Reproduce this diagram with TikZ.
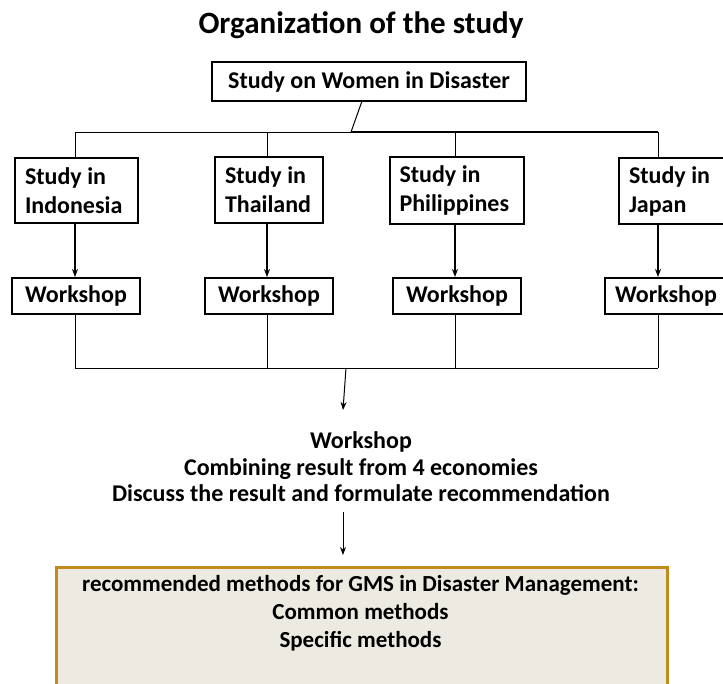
\documentclass[tikz,border=0pt]{standalone}
\usepackage{fontspec}
\setmainfont{Carlito}
\usepackage{xcolor}
\usetikzlibrary{arrows.meta, positioning}

\definecolor{recgold}{HTML}{C28B1C}
\definecolor{recfill}{HTML}{EDEBE1}

\begin{document}
\begin{tikzpicture}[
    x=1pt,  % 1 unit = 1 pixel of the layout
    y=-1pt, % y grows downwards
    >={Stealth[length=8pt, width=6pt]},
    font=\bfseries\fontsize{24}{29}\selectfont,
    box/.style={draw, line width=2pt, inner sep=0pt},
    studybox/.style={box, align=flush left, inner xsep=10pt},
    wsbox/.style={box, minimum height=36pt},
    link/.style={line width=1pt},
    recbox/.style={draw=recgold, fill=recfill, line width=2.5pt}
]
    \useasboundingbox (0,0) rectangle (723,683);

    % --- title ---
    \node[font=\bfseries\fontsize{31}{34}\selectfont] (title) at (361,25) {Organization of the study};

    % --- top box ---
    \node[box, minimum width=314pt, minimum height=39pt] (top) at (369,81.5) {Study on Women in Disaster};

    % --- study boxes ---
    \node[studybox, minimum width=123pt, minimum height=65pt, text width=103pt] (indo) at (76.5,190.5) {Study in\\Indonesia};
    \node[studybox, minimum width=108pt, minimum height=66pt, text width=88pt] (thai) at (269,190) {Study in\\Thailand};
    \node[studybox, minimum width=133pt, minimum height=67pt, text width=114pt] (phil) at (456.5,190.5) {Study in\\Philippines};
    \node[studybox, minimum width=108pt, minimum height=66pt, text width=88pt] (japan) at (673,191) {Study in\\Japan};

    % --- workshop boxes ---
    \node[wsbox, minimum width=128pt] (ws-indo) at (76,296) {Workshop};
    \node[wsbox, minimum width=128pt] (ws-thai) at (269,296) {Workshop};
    \node[wsbox, minimum width=128pt] (ws-phil) at (457,296) {Workshop};
    \node[wsbox, minimum width=122pt] (ws-japan) at (666,296) {Workshop};

    % --- bus points ---
    \coordinate (tMid) at (351,132);
    \coordinate (t1) at (75,132);
    \coordinate (t2) at (267,132);
    \coordinate (t3) at (455,132);
    \coordinate (t4) at (658,132);
    \coordinate (bMid) at (346,368);
    \coordinate (b1) at (75,368);
    \coordinate (b2) at (267,368);
    \coordinate (b3) at (455,368);
    \coordinate (b4) at (658,368);
    \coordinate (arrowEnd) at (343,410);

    % --- tree from the top box ---
    \draw[link] (top) -- (tMid);
    \draw[link] (t1) -- (t4);
    \draw[line width=2pt] (tMid) -- (t4);

    % --- drops, arrows and risers ---
    \foreach \n/\c in {1/indo, 2/thai, 3/phil, 4/japan} {
        \draw[link] (t\n) -- (t\n |- \c.north);
        \draw[line width=1.5pt, ->] (t\n |- \c.south) -- (t\n |- ws-\c.north);
        \draw[link] (t\n |- ws-\c.south) -- (b\n);
    }

    % --- joint workshop ---
    \draw[link] (b1) -- (b4);
    \draw[link, ->] (bMid) -- (arrowEnd);

    \node[align=center, font=\bfseries\fontsize{24}{26.5}\selectfont] (res) at (361,467)
        {Workshop\\Combining result from 4 economies\\Discuss the result and formulate recommendation};

    % --- recommendation box ---
    \node[recbox, minimum width=611pt, minimum height=130pt, anchor=north west] (rec) at (55,566) {};
    \node[align=center, anchor=north, font=\bfseries\fontsize{23}{28}\selectfont] (recText) at (360.5,572)
        {recommended methods for GMS in Disaster Management:\\Common methods\\Specific methods};

    \draw[link, ->, shorten <=6pt, shorten >=11pt] (res.south -| arrowEnd) -- (rec.north -| arrowEnd);

\end{tikzpicture}
\end{document}
